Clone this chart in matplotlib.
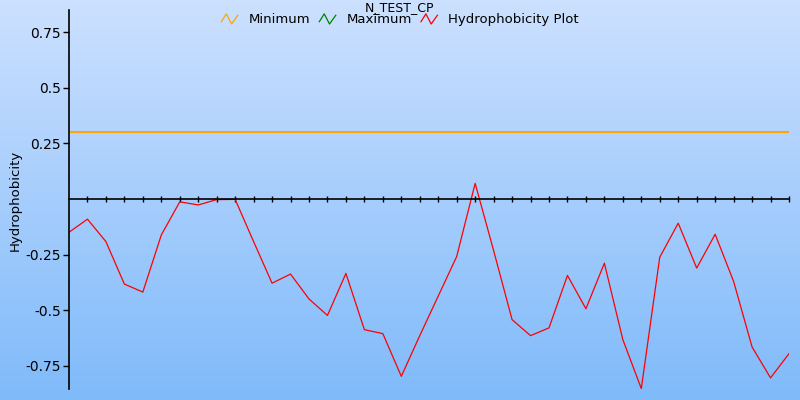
import numpy as np
import matplotlib.pyplot as plt
from matplotlib.lines import Line2D
from matplotlib.legend_handler import HandlerBase

# data
hydro = [-0.150, -0.091, -0.192, -0.383, -0.419, -0.162, -0.013, -0.027, -0.003, -0.002,
         -0.192, -0.379, -0.338, -0.450, -0.524, -0.335, -0.588, -0.606, -0.798, -0.615,
         -0.437, -0.259, 0.070, -0.232, -0.543, -0.615, -0.580, -0.344, -0.494, -0.289,
         -0.633, -0.853, -0.262, -0.109, -0.311, -0.159, -0.371, -0.666, -0.805, -0.696]
min_level = 0.30
ytick_vals = [-0.75, -0.5, -0.25, 0.25, 0.5, 0.75]
ytick_labels = ['-0.75', '-0.5', '-0.25', '0.25', '0.5', '0.75']
title = 'N_TEST_CP'


class ZigzagHandler(HandlerBase):
    # little zigzag glyph used as legend icon
    def create_artists(self, legend, orig_handle, xdescent, ydescent,
                       width, height, fontsize, trans):
        xs = np.array([0.0, 0.3, 0.62, 1.0]) * width - xdescent
        ys = np.array([0.15, 1.0, -0.1, 0.85]) * height - ydescent
        l = Line2D(xs, ys, color=orig_handle.get_color(), lw=0.9)
        l.set_transform(trans)
        return [l]


fig = plt.figure(figsize=(8, 4), dpi=100)

# gradient background
bg = fig.add_axes([0, 0, 1, 1], zorder=0)
top = np.array([0.80, 0.88, 1.0])
bot = np.array([0.50, 0.73, 0.98])
t = np.linspace(0, 1, 256)[:, None]
grad = top[None, :] * (1 - t) + bot[None, :] * t
bg.imshow(grad[:, None, :], aspect='auto', extent=[0, 1, 0, 1])
bg.axis('off')

ax = fig.add_axes([0.08625, 0.0275, 0.9, 0.9475], zorder=1)
ax.patch.set_alpha(0)

x = np.arange(len(hydro))
ax.plot([0, len(hydro) - 1], [min_level, min_level], color='orange', lw=1.5, label='Minimum')
ax.plot([], [], color='green', lw=1, label='Maximum')
ax.plot(x, hydro, color='red', lw=0.9, label='Hydrophobicity Plot')

ax.set_xlim(0, len(hydro) - 1)
ax.set_ylim(-0.855, 0.85)

ax.spines['top'].set_visible(False)
ax.spines['right'].set_visible(False)
ax.spines['bottom'].set_position(('data', 0))
ax.spines['left'].set_linewidth(1.2)
ax.spines['bottom'].set_linewidth(1.2)

ax.set_xticks(x[1:])
ax.tick_params(axis='x', direction='inout', length=4, width=1, labelbottom=False)
ax.set_yticks(ytick_vals)
ax.set_yticklabels(ytick_labels)
ax.tick_params(axis='y', direction='out', length=4, width=1, labelsize=10, pad=2)

fig.text(0.019, 0.5, 'Hydrophobicity', rotation=90, va='center', ha='center', fontsize=9.5)
fig.text(0.5, 0.9985, title, ha='center', va='top', fontsize=9)

fig.legend(handler_map={Line2D: ZigzagHandler()}, loc='center', bbox_to_anchor=(0.5, 0.951),
           ncol=3, frameon=False, fontsize=9.5, handlelength=1.25, handleheight=0.7,
           handletextpad=0.8, columnspacing=0.7, borderpad=0.1)

fig.savefig('out.png', dpi=100)
